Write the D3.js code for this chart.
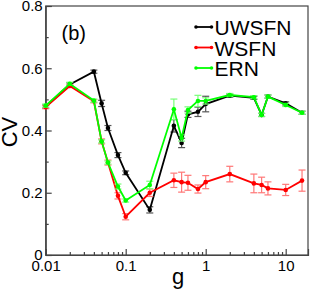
<!DOCTYPE html>
<html>
<head>
<meta charset="utf-8">
<script src="https://cdn.jsdelivr.net/npm/d3@7"></script>
<style>
  body { margin: 0; background: #fff; }
  text { font-family: "Liberation Sans", Arial, sans-serif; }
</style>
</head>
<body>
<script>
'use strict';
let gVals = [0.01, 0.02, 0.04, 0.05, 0.06, 0.08, 0.1, 0.2, 0.4, 0.5, 0.6, 0.8, 1, 2, 4, 5, 6, 10, 16];

let uwsfn = [0.477, 0.548, 0.589, 0.487, 0.408, 0.321, 0.264, 0.145, 0.415, 0.36, 0.452, 0.46, 0.485, 0.512, 0.505, 0.45, 0.509, 0.487, 0.457];
let uwsfnErr = [0.005, 0.005, 0.005, 0.01, 0.008, 0.008, 0.006, 0.01, 0.02, 0.015, 0.01, 0.015, 0.025, 0.005, 0.005, 0.005, 0.005, 0.005, 0.005];

let wsfn = [0.475, 0.543, 0.494, 0.365, 0.297, 0.19, 0.123, 0.2, 0.24, 0.234, 0.232, 0.212, 0.234, 0.26, 0.23, 0.225, 0.214, 0.209, 0.239];
let wsfnErr = [0.005, 0.005, 0.005, 0.008, 0.008, 0.01, 0.01, 0.012, 0.023, 0.032, 0.024, 0.013, 0.021, 0.025, 0.03, 0.025, 0.021, 0.018, 0.034];

let ern = [0.48, 0.55, 0.496, 0.365, 0.297, 0.22, 0.175, 0.225, 0.468, 0.376, 0.466, 0.495, 0.495, 0.514, 0.507, 0.45, 0.509, 0.482, 0.457];
let ernErr = [0.005, 0.005, 0.005, 0.005, 0.005, 0.008, 0.005, 0.012, 0.033, 0.01, 0.01, 0.018, 0.01, 0.005, 0.005, 0.005, 0.005, 0.005, 0.005];

let xMajor = [0.01, 0.1, 1, 10];
let xLabels = ["0.01", "0.1", "1", "10"];
let yMajor = [0, 0.2, 0.4, 0.6, 0.8];
let yLabels = ["0", "0.2", "0.4", "0.6", "0.8"];
let yMinor = [0.1, 0.3, 0.5, 0.7];
let legendNames = ["UWSFN", "WSFN", "ERN"];

let colors = ["#000", "#f00", "#0f0"];
let errColors = ["#555", "#f77", "#7f7"];

let padL = 45.7, padR = 308, padT = 6, padB = 255;

let svg = d3.select("body").append("svg")
	.attr("width", 311)
	.attr("height", 291);

let x = d3.scaleLog().domain([0.01, 19]).range([padL, padR]);
let y = d3.scaleLinear().domain([0, 0.8]).range([padB, padT]);

// minor x ticks 2..9 per decade
let xMinor = [];
[0.01, 0.1, 1, 10].forEach(function(d){
	for (let k = 2; k <= 9; k++) {
		if (d * k <= 19) xMinor.push(d * k);
	}
});

let axisColor = "#444";

// frame
svg.append("rect")
	.attr("x", padL).attr("y", padT)
	.attr("width", padR - padL).attr("height", padB - padT)
	.attr("fill", "none").attr("stroke", axisColor).attr("stroke-width", 1.2);

// x axis
svg.append("g").attr("transform", "translate(0," + padB + ")")
	.call(d3.axisBottom(x).tickValues(xMajor).tickSize(-6).tickPadding(5)
		.tickFormat(function(d,i){return xLabels[i];}));
svg.append("g").attr("transform", "translate(0," + padB + ")")
	.call(d3.axisBottom(x).tickValues(xMinor).tickSize(-3).tickFormat(""))
	.call(function(g){ g.select(".domain").remove(); });

// y axis
svg.append("g").attr("transform", "translate(" + padL + ",0)")
	.call(d3.axisLeft(y).tickValues(yMajor).tickSize(-6).tickPadding(3)
		.tickFormat(function(d,i){return yLabels[i];}));
svg.append("g").attr("transform", "translate(" + padL + ",0)")
	.call(d3.axisLeft(y).tickValues(yMinor).tickSize(-3).tickFormat(""))
	.call(function(g){ g.select(".domain").remove(); });

svg.selectAll(".tick line").attr("stroke", axisColor).attr("stroke-width", 1.2);
svg.selectAll(".domain").attr("stroke", axisColor).attr("stroke-width", 1.2);
svg.selectAll(".tick text")
	.attr("font-family", "Liberation Sans, Arial, sans-serif")
	.attr("font-size", 15).attr("fill", "#000");

// series
let series = [
	{vals: uwsfn, err: uwsfnErr},
	{vals: wsfn, err: wsfnErr},
	{vals: ern, err: ernErr}
];

let line = d3.line()
	.x(function(d){return x(d.g);})
	.y(function(d){return y(d.v);});

series.forEach(function(s, si){
	let pts = gVals.map(function(g, i){return {g: g, v: s.vals[i], e: s.err[i]};});
	let grp = svg.append("g");

	let eb = grp.selectAll("g.err").data(pts).enter().append("g")
		.attr("stroke", errColors[si]).attr("stroke-width", 1.2);
	eb.append("line")
		.attr("x1", function(d){return x(d.g);}).attr("x2", function(d){return x(d.g);})
		.attr("y1", function(d){return y(d.v - d.e);}).attr("y2", function(d){return y(d.v + d.e);});
	eb.append("line")
		.attr("x1", function(d){return x(d.g) - 3.5;}).attr("x2", function(d){return x(d.g) + 3.5;})
		.attr("y1", function(d){return y(d.v + d.e);}).attr("y2", function(d){return y(d.v + d.e);});
	eb.append("line")
		.attr("x1", function(d){return x(d.g) - 3.5;}).attr("x2", function(d){return x(d.g) + 3.5;})
		.attr("y1", function(d){return y(d.v - d.e);}).attr("y2", function(d){return y(d.v - d.e);});

	grp.append("path")
		.attr("d", line(pts))
		.attr("fill", "none")
		.attr("stroke", colors[si])
		.attr("stroke-width", 1.8);

	grp.selectAll("circle").data(pts).enter().append("circle")
		.attr("cx", function(d){return x(d.g);})
		.attr("cy", function(d){return y(d.v);})
		.attr("r", 2.3)
		.attr("fill", colors[si]);
});

// legend
let legend = svg.append("g");
legendNames.forEach(function(name, i){
	let ly = 27 + i * 20.5;
	legend.append("line")
		.attr("x1", 196).attr("x2", 211.5).attr("y1", ly).attr("y2", ly)
		.attr("stroke", colors[i]).attr("stroke-width", 1.8);
	legend.append("circle").attr("cx", 196).attr("cy", ly).attr("r", 1.8).attr("fill", colors[i]);
	legend.append("circle").attr("cx", 211.5).attr("cy", ly).attr("r", 1.8).attr("fill", colors[i]);
	legend.append("text")
		.attr("x", 214.5).attr("y", ly + 8)
		.attr("font-size", 21)
		.text(name);
});

svg.append("text")
	.attr("x", 61.5).attr("y", 39.5)
	.attr("font-size", 20)
	.text("(b)");

svg.append("text")
	.attr("transform", "translate(17,132) rotate(-90)")
	.attr("text-anchor", "middle")
	.attr("font-size", 22)
	.text("CV");

svg.append("text")
	.attr("x", 178).attr("y", 283.5)
	.attr("text-anchor", "middle")
	.attr("font-size", 22)
	.text("g");
</script>
</body>
</html>
